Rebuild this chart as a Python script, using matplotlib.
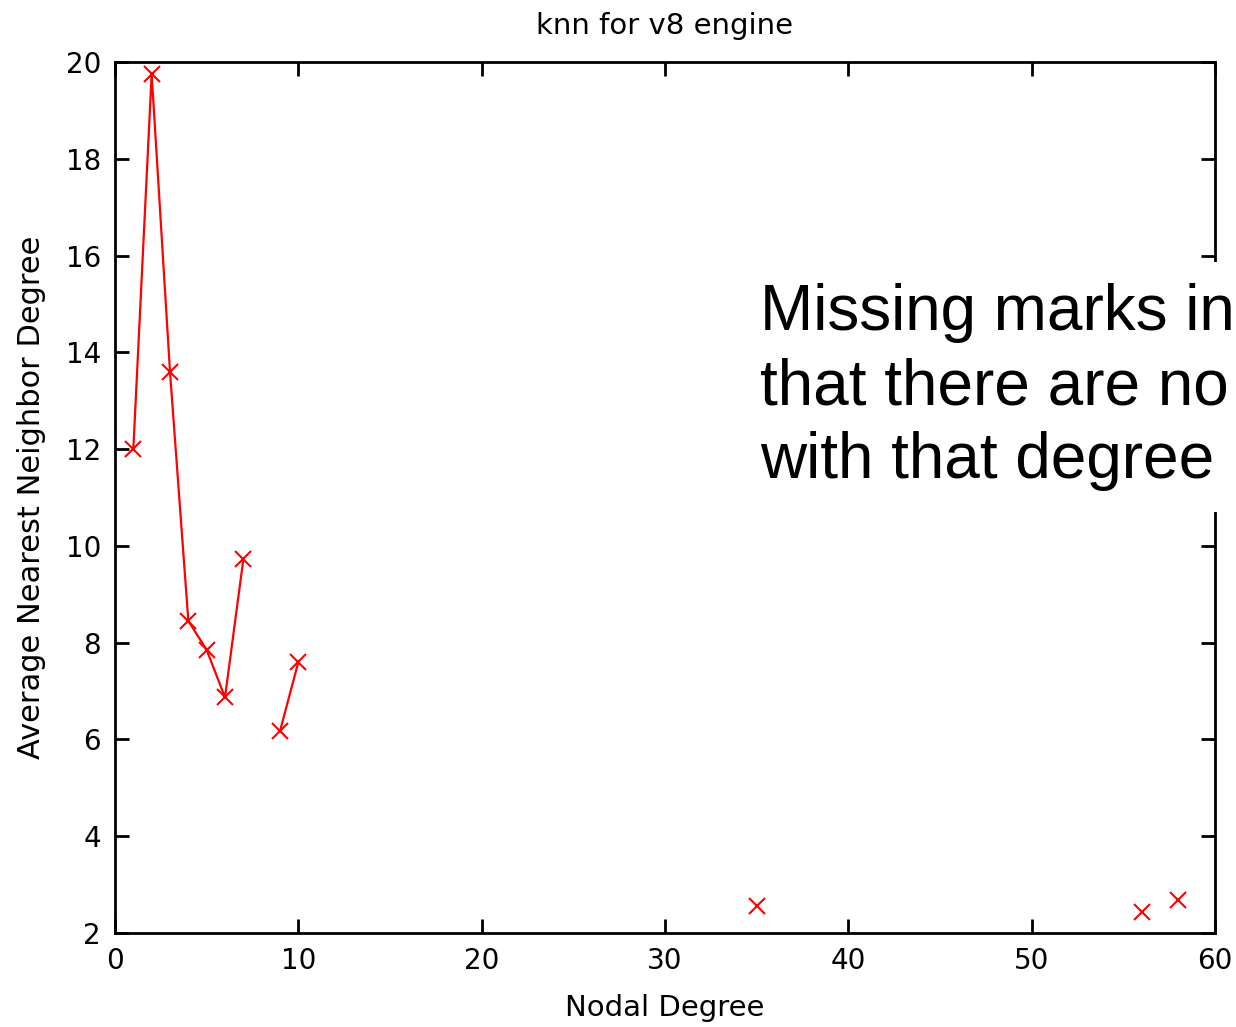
#!/usr/bin/env python3
"""knn vs nodal degree for the v8 engine graph."""

import matplotlib

matplotlib.use("Agg")
import matplotlib.pyplot as plt
from matplotlib.patches import Rectangle

nan = float("nan")

# NaN marks degrees with no nodes, which breaks the line
degree = [1, 2, 3, 4, 5, 6, 7, 8, 9, 10, 11, 35, 36, 56, 57, 58]
knn = [12.0, 19.75, 13.6, 8.45, 7.85, 6.87, 9.72, nan, 6.17, 7.6, nan,
       2.56, nan, 2.43, nan, 2.68]

x_ticks = [0, 10, 20, 30, 40, 50, 60]
y_ticks = [2, 4, 6, 8, 10, 12, 14, 16, 18, 20]

W, H, DPI = 1236, 1027, 100

fig = plt.figure(figsize=(W / DPI, H / DPI), dpi=DPI)
ax = fig.add_axes([115 / W, 1 - 933 / H, 1100 / W, 871 / H])

ax.plot(degree, knn, color="#ff0000", linewidth=1.6, marker="x",
        markersize=11, markeredgewidth=1.5)

ax.set_xlim(0, 60)
ax.set_ylim(2, 20)
ax.set_xticks(x_ticks)
ax.set_yticks(y_ticks)
ax.tick_params(direction="in", length=10, width=2, top=True, right=True,
               labelsize=20, pad=10)
for spine in ax.spines.values():
    spine.set_linewidth(2)

ax.set_title("knn for v8 engine", fontsize=21, pad=20)
ax.set_xlabel("Nodal Degree", fontsize=21, labelpad=14)
ax.set_ylabel("Average Nearest Neighbor Degree", fontsize=22, labelpad=14)

# annotation pasted over the right side of the plot
fig.patches.append(Rectangle((740 / W, 1 - 512 / H), (W - 740) / W, 250 / H,
                             transform=fig.transFigure, facecolor="white",
                             edgecolor="none", zorder=5))
fig.text(760 / W, 1 - 283 / H,
         "Missing marks in\nthat there are no\nwith that degree",
         family="Liberation Sans", fontsize=46, va="top", ha="left",
         linespacing=1.3, zorder=6)

fig.savefig("out.png", dpi=DPI)
